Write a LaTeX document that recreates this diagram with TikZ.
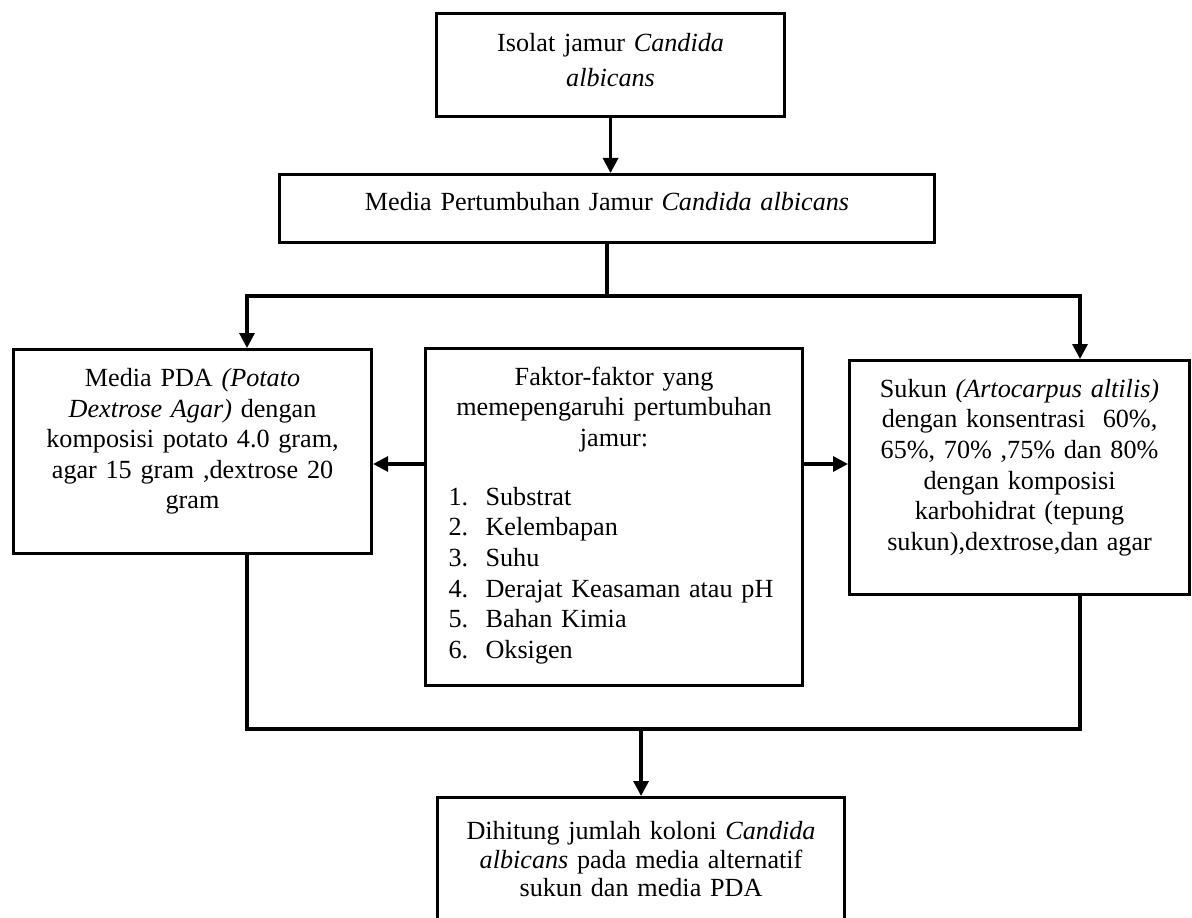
\documentclass[tikz,border=0pt]{standalone}
\usepackage{fontspec}
\setmainfont{Liberation Serif}
\usetikzlibrary{arrows.meta,positioning}
\newcommand{\boxfont}{\fontsize{14.9}{17.4}\selectfont}

\begin{document}
\begin{tikzpicture}[x=0.02cm, y=-0.02cm, line width=1.8pt,
    box/.style={draw, align=center, inner xsep=0.15cm, inner ysep=0pt, anchor=north west, font=\boxfont},
    >={Triangle[length=0.3cm,width=0.3cm]}]
  \useasboundingbox (0,0) rectangle (1192,918);
  \clip (0,0) rectangle (1192,918);

  \node[box, minimum width=6.96cm, minimum height=2.06cm, text width=6.66cm] (isolat) at (435,12) {Isolat jamur \textit{Candida}\\[0.09cm] \textit{albicans}\vspace*{0.2cm}};
  \node[box, minimum width=13.1cm, minimum height=1.36cm, text width=12.8cm] (media) at (278,173) {Media Pertumbuhan Jamur \textit{Candida albicans}\vspace*{0.28cm}};
  \node[box, minimum width=7.16cm, minimum height=4.08cm, text width=6.86cm] (pda) at (12,348) {Media PDA \textit{(Potato}\\ \textit{Dextrose Agar)} dengan\\ komposisi potato 4.0 gram,\\ agar 15 gram ,dextrose 20\\ gram\vspace*{0.4cm}};
  \node[box, minimum width=7.54cm, minimum height=6.74cm, inner xsep=0.46cm, text width=6.62cm] (faktor) at (424,347) {Faktor-faktor yang\\ memepengaruhi pertumbuhan\\ jamur:\\[0.57cm]
    \makebox[6.62cm][l]{\begin{tabular}[t]{@{}p{0.74cm}@{}l@{}}
      1. & Substrat\\
      2. & Kelembapan\\
      3. & Suhu\\
      4. & Derajat Keasaman atau pH\\
      5. & Bahan Kimia\\
      6. & Oksigen
    \end{tabular}}};
  \node[box, minimum width=6.8cm, minimum height=4.68cm, text width=6.5cm] (sukun) at (848,359) {Sukun \textit{(Artocarpus altilis)}\\ dengan konsentrasi\ \ 60\%,\\ 65\%, 70\% ,75\% dan 80\%\\ dengan komposisi\\ karbohidrat (tepung\\ sukun),dextrose,dan agar\vspace*{0.4cm}};
  \node[box, minimum width=8.14cm, minimum height=2.98cm, text width=7.84cm] (hitung) at (436,796) {Dihitung jumlah koloni \textit{Candida}\\[-0.05cm] \textit{albicans} pada media alternatif\\[-0.05cm] sukun dan media PDA\vspace*{0.52cm}};

  \coordinate (tl) at (247,296);
  \coordinate (tr) at (1080,296);
  \coordinate (bl) at (247,729);
  \coordinate (br) at (1080,729);
  \coordinate (mid) at (612,464);

  \draw[->] (isolat.south) -- (isolat.south |- media.north);
  \draw (media.south) -- (media.south |- tl);
  \draw[<->] (tl |- pda.north) -- (tl) -- (tr) -- (tr |- sukun.north);
  \draw[->] (faktor.west |- mid) -- (pda.east |- mid);
  \draw[->] (faktor.east |- mid) -- (sukun.west |- mid);
  \draw (pda.south -| bl) -- (bl) -- (br) -- (sukun.south -| br);
  \draw[->] (hitung.north |- bl) -- (hitung.north);
\end{tikzpicture}
\end{document}
